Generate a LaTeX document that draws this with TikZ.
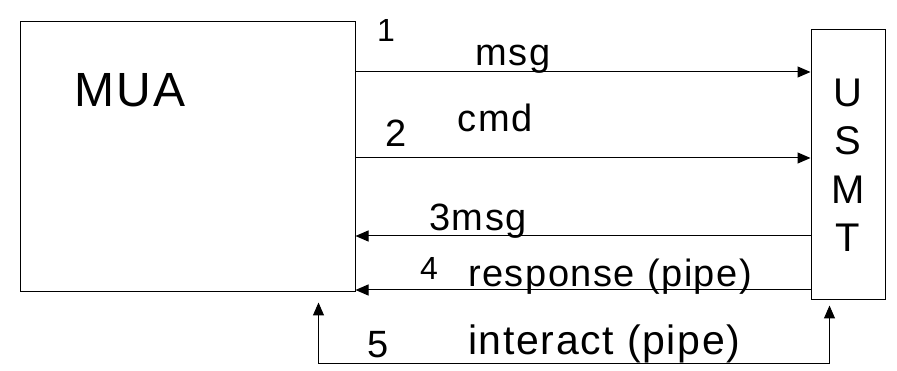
\documentclass[tikz,border=0pt]{standalone}
\usepackage{fontspec}
\setmainfont[LetterSpace=4]{Liberation Sans}
\usetikzlibrary{arrows.meta}
\tikzset{basic/.style={draw,line width=1pt,rectangle,inner sep=0pt}}
\tikzset{agent/.style={basic,align=center,minimum height=270pt}}
\tikzset{msglabel/.style={inner sep=0pt,anchor=base,
                          font=\fontsize{38}{44}\selectfont}}
\tikzset{numlabel/.style={msglabel,font=\fontsize{32}{36}\selectfont}}
\tikzset{link/.style={line width=1pt,-{Triangle[length=13pt,width=11pt]}}}
\tikzset{biway/.style={line width=1pt,
     {Triangle[length=13pt,width=11pt]}-{Triangle[length=13pt,width=11pt]}}}

\begin{document}
\begin{tikzpicture}[x=1pt,y=-1pt]
    \useasboundingbox (0,0) rectangle (897,371);
    \node[agent,minimum width=335pt] (mua) at (187.5,157) {};
    \node[agent,minimum width=74pt,
          font=\fontsize{40}{48.5}\selectfont] (usmt) at (848,165) {U\\S\\M\\T};
    \node[msglabel,font=\fontsize{48}{52}\selectfont] (muaname) at (130,107) {MUA};
    \foreach \y in {72,158}{%
          \draw[link] (mua.east |- 0,\y) -- (usmt.west |- 0,\y);
        }
    \foreach \y in {236,290}{%
          \draw[link] (usmt.west |- 0,\y) -- (mua.east |- 0,\y);
        }
    \coordinate (left5) at ([shift={(-37,10)}]mua.south east);
    \coordinate (right5) at ([shift={(19,5)}]usmt.south west);
    \draw[biway] (right5) -- (right5 |- 0,363) -- (left5 |- 0,363) -- (left5);
    % Labels
    \node[numlabel] (n1) at (386,42) {1};
    \node[msglabel] (t1) at (513,66) {msg};
    \node[msglabel] (n2) at (396,147) {2};
    \node[msglabel] (t2) at (495,132) {cmd};
    \node[msglabel] (t3) at (478,231) {3msg};
    \node[numlabel] (n4) at (429,280) {4};
    \node[msglabel,anchor=base west] (t4) at (468,287) {response (pipe)};
    \node[msglabel] (n5) at (378,357) {5};
    \node[msglabel,anchor=base west,font=\fontsize{41}{44}\selectfont]
          (t5) at (468,355) {interact (pipe)};
\end{tikzpicture}
\end{document}
